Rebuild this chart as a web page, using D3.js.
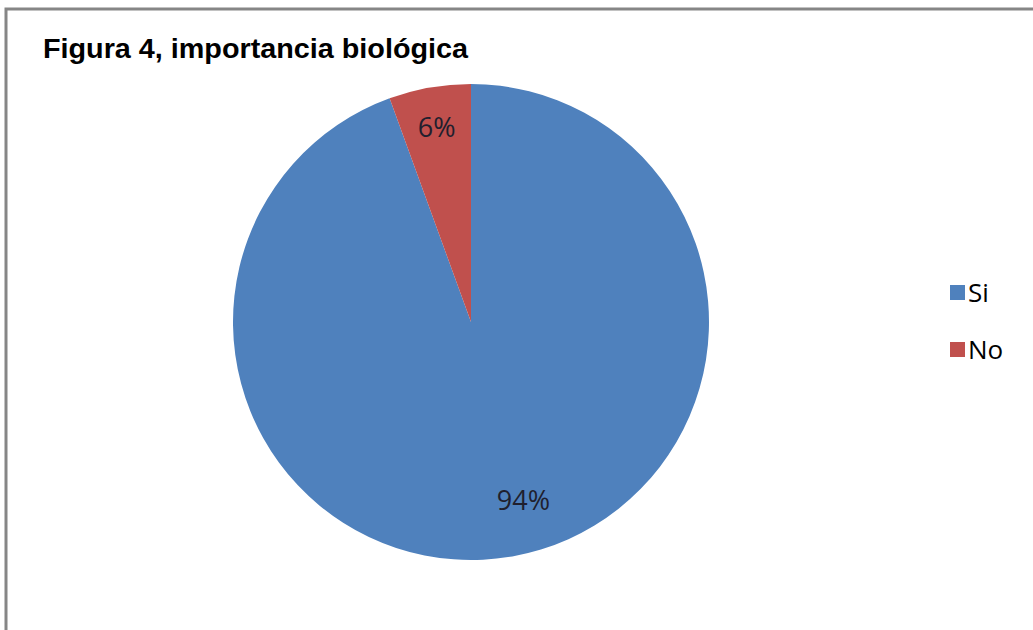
<!DOCTYPE html>
<html>
<head>
<meta charset="utf-8">
<script src="https://cdn.jsdelivr.net/npm/d3@7"></script>
<style>
  body { margin: 0; background: #fff; }
  svg { display: block; }
</style>
</head>
<body>
<svg id="chart" width="1033" height="630"></svg>
<script>
"use strict";

// datos
const categories = ["Si", "No"];
const values = [17, 1];
const colors = ["#4F81BD", "#C0504D"];
const chartTitle = "Figura 4, importancia biológica";

const svg = d3.select("#chart");
const width = 1033, height = 630;

// marco
svg.append("path")
  .attr("d", `M6,${height} L6,9 L${width},9`)
  .attr("fill", "none")
  .attr("stroke", "#868686")
  .attr("stroke-width", 3);

svg.append("text")
  .attr("x", 43)
  .attr("y", 58)
  .attr("font-family", "Liberation Sans, Arial, sans-serif")
  .attr("font-weight", "bold")
  .attr("font-size", 27)
  .attr("textLength", 425)
  .attr("lengthAdjust", "spacingAndGlyphs")
  .attr("fill", "#000")
  .text(chartTitle);

const cx = 471, cy = 322, radius = 238;
const total = d3.sum(values);
const data = categories.map((c, i) => ({ name: c, value: values[i], color: colors[i] }));

const pie = d3.pie().sort(null).value(d => d.value);
const arc = d3.arc().innerRadius(0).outerRadius(radius);
const labelRadius = [0.76, 0.83];

const g = svg.append("g").attr("transform", `translate(${cx},${cy})`);
const arcs = pie(data);

g.selectAll("path.slice")
  .data(arcs)
  .enter().append("path")
  .attr("class", "slice")
  .attr("d", arc)
  .attr("fill", d => d.data.color);

g.selectAll("text.label")
  .data(arcs)
  .enter().append("text")
  .attr("class", "label")
  .attr("transform", (d, i) => {
    let r = radius * labelRadius[i];
    let c = d3.arc().innerRadius(r).outerRadius(r).centroid(d);
    // la etiqueta grande va un poco a la derecha, como en Excel
    if (i === 0) c[0] += 21;
    return `translate(${c[0]},${c[1]})`;
  })
  .attr("text-anchor", "middle")
  .attr("dy", "0.35em")
  .attr("font-family", "Open Sans, Liberation Sans, sans-serif")
  .attr("font-size", 27)
  .attr("fill", "#1f1f2e")
  .text(d => Math.round(d.data.value / total * 100) + "%");

// leyenda
const legend = svg.append("g").attr("transform", "translate(950,285)");
const items = legend.selectAll("g")
  .data(data)
  .enter().append("g")
  .attr("transform", (d, i) => `translate(0,${i * 57})`);

items.append("rect")
  .attr("width", 15)
  .attr("height", 15)
  .attr("fill", d => d.color);

items.append("text")
  .attr("x", 18)
  .attr("y", 17)
  .attr("font-family", "Open Sans, Liberation Sans, sans-serif")
  .attr("font-size", 26)
  .attr("fill", "#000")
  .text(d => d.name);
</script>
</body>
</html>
